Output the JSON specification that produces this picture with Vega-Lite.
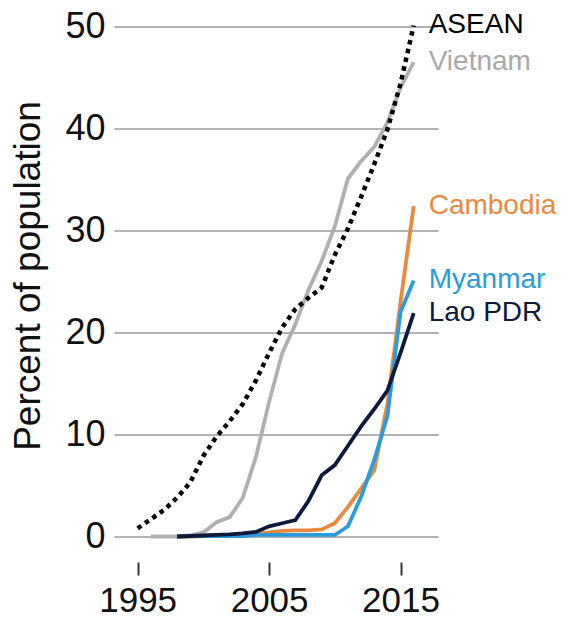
{
  "$schema": "https://vega.github.io/schema/vega-lite/v6.json",
  "autosize": {"type": "none"},
  "padding": {"left": 114, "top": 26.5, "right": 128, "bottom": 82.5},
  "width": 324,
  "height": 510,
  "background": "white",
  "config": {
    "view": {"stroke": null},
    "font": "Liberation Sans",
    "axis": {"labelFont": "Liberation Sans", "titleFont": "Liberation Sans"}
  },
  "datasets": {
    "rows": [
      {"series": "ASEAN", "year": 1995, "value": 0.8},
      {"series": "ASEAN", "year": 1996, "value": 1.7},
      {"series": "ASEAN", "year": 1997, "value": 2.6},
      {"series": "ASEAN", "year": 1998, "value": 3.8},
      {"series": "ASEAN", "year": 1999, "value": 5.3},
      {"series": "ASEAN", "year": 2000, "value": 7.9},
      {"series": "ASEAN", "year": 2001, "value": 9.8},
      {"series": "ASEAN", "year": 2002, "value": 11.3},
      {"series": "ASEAN", "year": 2003, "value": 13.0},
      {"series": "ASEAN", "year": 2004, "value": 15.3},
      {"series": "ASEAN", "year": 2005, "value": 18.0},
      {"series": "ASEAN", "year": 2006, "value": 20.5},
      {"series": "ASEAN", "year": 2007, "value": 22.3},
      {"series": "ASEAN", "year": 2008, "value": 23.4},
      {"series": "ASEAN", "year": 2009, "value": 24.4},
      {"series": "ASEAN", "year": 2010, "value": 27.6},
      {"series": "ASEAN", "year": 2011, "value": 30.2},
      {"series": "ASEAN", "year": 2012, "value": 33.3},
      {"series": "ASEAN", "year": 2013, "value": 36.5},
      {"series": "ASEAN", "year": 2014, "value": 39.9},
      {"series": "ASEAN", "year": 2015, "value": 44.4},
      {"series": "ASEAN", "year": 2016, "value": 50.1},
      {"series": "Vietnam", "year": 1996, "value": 0},
      {"series": "Vietnam", "year": 1997, "value": 0},
      {"series": "Vietnam", "year": 1998, "value": 0},
      {"series": "Vietnam", "year": 1999, "value": 0.1},
      {"series": "Vietnam", "year": 2000, "value": 0.4},
      {"series": "Vietnam", "year": 2001, "value": 1.4},
      {"series": "Vietnam", "year": 2002, "value": 1.9},
      {"series": "Vietnam", "year": 2003, "value": 3.8},
      {"series": "Vietnam", "year": 2004, "value": 7.8},
      {"series": "Vietnam", "year": 2005, "value": 13.2},
      {"series": "Vietnam", "year": 2006, "value": 18.0},
      {"series": "Vietnam", "year": 2007, "value": 20.8},
      {"series": "Vietnam", "year": 2008, "value": 24.2},
      {"series": "Vietnam", "year": 2009, "value": 27.0},
      {"series": "Vietnam", "year": 2010, "value": 30.4},
      {"series": "Vietnam", "year": 2011, "value": 35.1},
      {"series": "Vietnam", "year": 2012, "value": 36.8},
      {"series": "Vietnam", "year": 2013, "value": 38.2},
      {"series": "Vietnam", "year": 2014, "value": 40.6},
      {"series": "Vietnam", "year": 2015, "value": 44.0},
      {"series": "Vietnam", "year": 2016, "value": 46.5},
      {"series": "Cambodia", "year": 1998, "value": 0},
      {"series": "Cambodia", "year": 1999, "value": 0},
      {"series": "Cambodia", "year": 2000, "value": 0.05},
      {"series": "Cambodia", "year": 2001, "value": 0.1},
      {"series": "Cambodia", "year": 2002, "value": 0.15},
      {"series": "Cambodia", "year": 2003, "value": 0.2},
      {"series": "Cambodia", "year": 2004, "value": 0.25},
      {"series": "Cambodia", "year": 2005, "value": 0.4},
      {"series": "Cambodia", "year": 2006, "value": 0.55},
      {"series": "Cambodia", "year": 2007, "value": 0.6},
      {"series": "Cambodia", "year": 2008, "value": 0.6},
      {"series": "Cambodia", "year": 2009, "value": 0.7},
      {"series": "Cambodia", "year": 2010, "value": 1.3},
      {"series": "Cambodia", "year": 2011, "value": 2.9},
      {"series": "Cambodia", "year": 2012, "value": 4.7},
      {"series": "Cambodia", "year": 2013, "value": 6.5},
      {"series": "Cambodia", "year": 2014, "value": 13.0},
      {"series": "Cambodia", "year": 2015, "value": 23.0},
      {"series": "Cambodia", "year": 2016, "value": 32.4},
      {"series": "Myanmar", "year": 1998, "value": 0},
      {"series": "Myanmar", "year": 1999, "value": 0.05},
      {"series": "Myanmar", "year": 2000, "value": 0.05},
      {"series": "Myanmar", "year": 2001, "value": 0.05},
      {"series": "Myanmar", "year": 2002, "value": 0.05},
      {"series": "Myanmar", "year": 2003, "value": 0.05},
      {"series": "Myanmar", "year": 2004, "value": 0.15},
      {"series": "Myanmar", "year": 2005, "value": 0.15},
      {"series": "Myanmar", "year": 2006, "value": 0.15},
      {"series": "Myanmar", "year": 2007, "value": 0.15},
      {"series": "Myanmar", "year": 2008, "value": 0.15},
      {"series": "Myanmar", "year": 2009, "value": 0.15},
      {"series": "Myanmar", "year": 2010, "value": 0.15},
      {"series": "Myanmar", "year": 2011, "value": 1.0},
      {"series": "Myanmar", "year": 2012, "value": 3.9},
      {"series": "Myanmar", "year": 2013, "value": 7.5},
      {"series": "Myanmar", "year": 2014, "value": 11.8},
      {"series": "Myanmar", "year": 2015, "value": 22.0},
      {"series": "Myanmar", "year": 2016, "value": 25.1},
      {"series": "Lao PDR", "year": 1998, "value": 0},
      {"series": "Lao PDR", "year": 1999, "value": 0.05},
      {"series": "Lao PDR", "year": 2000, "value": 0.1},
      {"series": "Lao PDR", "year": 2001, "value": 0.15},
      {"series": "Lao PDR", "year": 2002, "value": 0.2},
      {"series": "Lao PDR", "year": 2003, "value": 0.3},
      {"series": "Lao PDR", "year": 2004, "value": 0.45},
      {"series": "Lao PDR", "year": 2005, "value": 1.0},
      {"series": "Lao PDR", "year": 2006, "value": 1.3},
      {"series": "Lao PDR", "year": 2007, "value": 1.6},
      {"series": "Lao PDR", "year": 2008, "value": 3.5},
      {"series": "Lao PDR", "year": 2009, "value": 6.0},
      {"series": "Lao PDR", "year": 2010, "value": 7.0},
      {"series": "Lao PDR", "year": 2011, "value": 8.9},
      {"series": "Lao PDR", "year": 2012, "value": 10.8},
      {"series": "Lao PDR", "year": 2013, "value": 12.5},
      {"series": "Lao PDR", "year": 2014, "value": 14.3},
      {"series": "Lao PDR", "year": 2015, "value": 18.0},
      {"series": "Lao PDR", "year": 2016, "value": 21.9}
    ]
  },
  "data": {"name": "rows"},
  "encoding": {
    "x": {
      "field": "year",
      "type": "quantitative",
      "scale": {"domain": [1993.2, 2017.85], "nice": false, "zero": false},
      "axis": {
        "title": null,
        "values": [1995, 2005, 2015],
        "format": "d",
        "domain": false,
        "grid": false,
        "offset": 25.5,
        "tickSize": 13,
        "tickWidth": 2,
        "tickColor": "#333333",
        "labelFontSize": 35,
        "labelColor": "#111111",
        "labelBaseline": "bottom",
        "labelPadding": 43.5
      }
    },
    "y": {
      "field": "value",
      "type": "quantitative",
      "scale": {"domain": [0, 50], "nice": false},
      "axis": {
        "title": "Percent of population",
        "titleFontSize": 37,
        "titleFontWeight": "normal",
        "titleColor": "#111111",
        "titleX": -86,
        "titleY": 249,
        "titleBaseline": "middle",
        "titleAlign": "center",
        "titleAngle": -90,
        "values": [0, 10, 20, 30, 40, 50],
        "domain": false,
        "ticks": false,
        "grid": true,
        "gridColor": "#999999",
        "gridWidth": 1.3,
        "labelFontSize": 36,
        "labelColor": "#111111",
        "labelPadding": 9
      }
    }
  },
  "layer": [
    {
      "transform": [{"filter": "datum.series === 'Vietnam'"}],
      "mark": {"type": "line", "color": "#b0b0b0", "strokeWidth": 3.8, "clip": false}
    },
    {
      "transform": [{"filter": "datum.series === 'Cambodia'"}],
      "mark": {"type": "line", "color": "#ea8a3f", "strokeWidth": 3.8, "clip": false}
    },
    {
      "transform": [{"filter": "datum.series === 'Myanmar'"}],
      "mark": {"type": "line", "color": "#2a9bdc", "strokeWidth": 3.8, "clip": false}
    },
    {
      "transform": [{"filter": "datum.series === 'Lao PDR'"}],
      "mark": {"type": "line", "color": "#0e1a3c", "strokeWidth": 3.8, "clip": false}
    },
    {
      "transform": [{"filter": "datum.series === 'ASEAN'"}],
      "mark": {"type": "line", "color": "#000000", "strokeWidth": 4.5, "strokeDash": [4.5, 4.5], "clip": false}
    },
    {
      "transform": [{"filter": "datum.year === 2016"}],
      "mark": {"type": "text", "align": "left", "baseline": "middle", "dx": 15, "fontSize": 28, "font": "Liberation Sans", "clip": false},
      "encoding": {
        "text": {"field": "series"},
        "color": {
          "field": "series",
          "type": "nominal",
          "scale": {
            "domain": ["ASEAN", "Vietnam", "Cambodia", "Myanmar", "Lao PDR"],
            "range": ["#000000", "#a8a8a8", "#ea8a3f", "#2a9bdc", "#0e1a3c"]
          },
          "legend": null
        }
      }
    }
  ]
}
